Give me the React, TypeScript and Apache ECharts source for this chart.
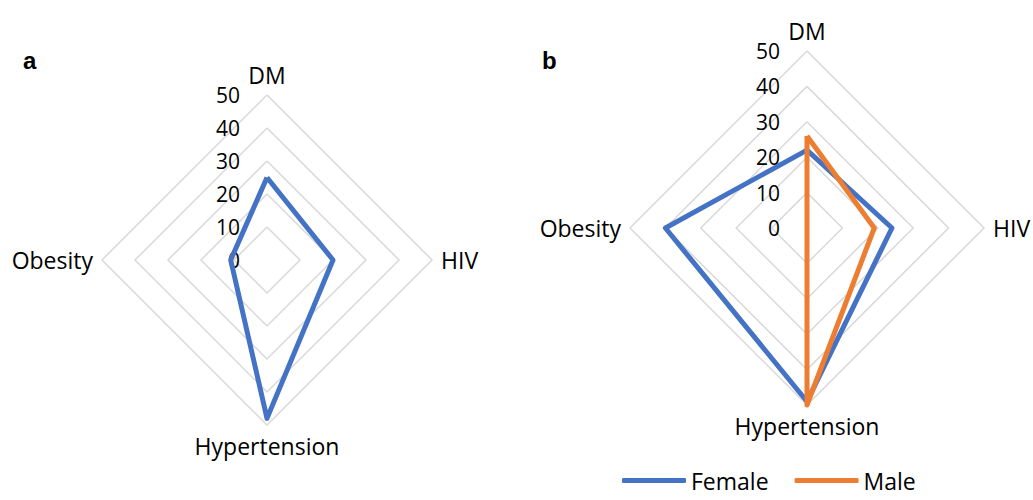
import React, { useEffect, useRef } from "react";
import * as echarts from "echarts";

const indicatorNames = ["DM", "Obesity", "Hypertension", "HIV"];
const tickMax = 50;
const chartAValues = [25, 11, 48, 20];
const femaleValues = [22, 40, 49, 24];
const maleValues = [26, 0, 50, 19];
const legendNames = ["Female", "Male"];

const FONT = "'Open Sans', sans-serif";

function makeIndicators() {
  return indicatorNames.map((name, i) => ({
    name,
    min: 0,
    max: tickMax,
    axisLabel: i === 0 ? { show: true } : { show: false },
  }));
}

function radarBase(center: [number, number], radius: number) {
  return {
    center,
    radius,
    shape: "polygon",
    splitNumber: 5,
    startAngle: 90,
    nameGap: 9,
    indicator: makeIndicators(),
    axisName: { color: "#000", fontSize: 23, fontFamily: FONT },
    axisLine: { show: false },
    axisTick: { show: false },
    splitArea: { show: false },
    splitLine: { lineStyle: { color: "#d9d9d9", width: 1.5 } },
    axisLabel: {
      show: false,
      color: "#000",
      fontSize: 21,
      fontFamily: FONT,
      margin: 27,
      showMinLabel: true,
      showMaxLabel: true,
    },
  };
}

export default function App() {
  const ref = useRef<HTMLDivElement>(null);
  useEffect(() => {
    document.body.style.margin = "0";
    document.body.style.overflow = "hidden";
    if (!ref.current) return;
    const chart = echarts.init(ref.current, undefined, { renderer: "svg" });
    const titleStyle = { fontSize: 24, fontWeight: "bold", fontFamily: "'Liberation Sans', Arial", color: "#000" };
    chart.setOption({
      animation: false,
      backgroundColor: "#fff",
      title: [
        { text: "a", left: 18, top: 43, textStyle: titleStyle },
        { text: "b", left: 537, top: 43, textStyle: titleStyle },
      ],
      legend: {
        data: legendNames,
        left: 617,
        top: 464,
        icon: "roundRect",
        itemWidth: 64,
        itemHeight: 5,
        itemGap: 26,
        textStyle: { fontSize: 23, fontFamily: FONT, color: "#000" },
      },
      radar: [radarBase([267, 260], 165), radarBase([807, 228], 177)],
      series: [
        {
          type: "radar",
          radarIndex: 0,
          name: "a",
          symbol: "none",
          lineStyle: { color: "#4472C4", width: 5 },
          itemStyle: { color: "#4472C4" },
          data: [{ value: chartAValues, name: "a" }],
        },
        {
          type: "radar",
          radarIndex: 1,
          symbol: "none",
          data: [
            { value: femaleValues, name: legendNames[0], lineStyle: { color: "#4472C4", width: 5 }, itemStyle: { color: "#4472C4" } },
            { value: maleValues, name: legendNames[1], lineStyle: { color: "#ED7D31", width: 5 }, itemStyle: { color: "#ED7D31" } },
          ],
        },
      ],
    });
    return () => chart.dispose();
  }, []);
  return <div ref={ref} style={{ width: 1033, height: 500 }} />;
}
